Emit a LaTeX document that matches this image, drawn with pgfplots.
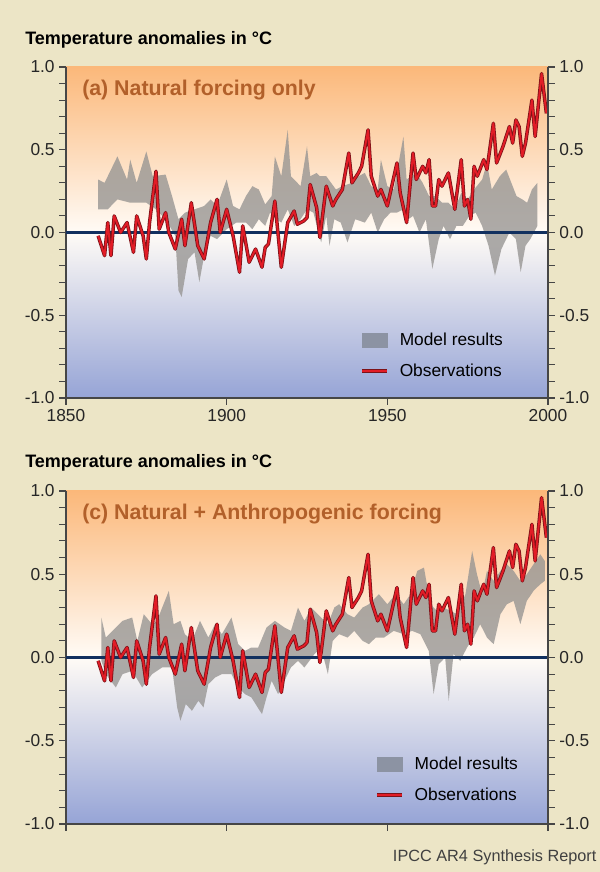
\documentclass[border=0pt]{standalone}
\usepackage{fontspec}
\setmainfont{Liberation Sans}
\usepackage{pgfplots}
\pgfplotsset{compat=1.18}
\definecolor{bgbeige}{RGB}{236,229,198}
\definecolor{toporange}{RGB}{251,184,122}
\definecolor{midwhite}{RGB}{255,251,246}
\definecolor{botblue}{RGB}{150,164,214}
\definecolor{titlebrown}{RGB}{178,96,42}
\definecolor{modelgray}{RGB}{150,148,146}
\definecolor{legendgray}{RGB}{140,147,163}
\definecolor{obsred}{RGB}{226,28,38}
\definecolor{obsdark}{RGB}{125,18,24}
\definecolor{zeroblue}{RGB}{18,48,95}
\definecolor{axisgray}{RGB}{70,70,70}
\pgfplotsset{
 common/.style={
  scale only axis, width=361.5pt,
  xmin=1850,xmax=2000,ymin=-1,ymax=1,
  ytick={-1,-0.5,0,0.5,1},
  yticklabels={-1.0,-0.5,0.0,0.5,1.0},
  minor y tick num=4,
  tick align=outside,
  major tick length=5pt, minor tick length=5pt,
  tick style={axisgray, line width=0.8pt},
  axis line style={axisgray, line width=1pt},
  ticklabel style={font=\fontsize{13}{15}\selectfont, text=black!85},
 },
 panel/.style={
  common,
  axis background/.style={top color=toporange, bottom color=botblue, middle color=midwhite},
  axis x line*=bottom, axis y line*=left,
  xtick={1850,1900,1950,2000},
  legend style={draw=none, fill=none, font=\fontsize{13}{15}\selectfont, row sep=8pt, inner sep=0pt,
    /tikz/every even column/.append style={column sep=0pt}},
  legend cell align=left,
 },
 rightax/.style={common, axis y line*=right, axis x line=none},
 modelleg/.style={legend image code/.code={\fill[legendgray] (0pt,-5.2pt) rectangle (19pt,5.2pt);}},
 obsleg/.style={legend image code/.code={\draw[obsdark,line width=2.6pt] (0pt,0pt)--(19pt,0pt);\draw[obsred,line width=1.4pt] (0pt,0pt)--(19pt,0pt);}},
 obsd/.style={obsdark, line width=2.6pt, line join=round, forget plot},
 obsr/.style={obsred, line width=1.4pt, line join=round, forget plot},
 band/.style={fill=modelgray, fill opacity=0.78, draw=none, forget plot},
 zline/.style={zeroblue, line width=2.2pt, forget plot},
}
\pgfplotstableread{
year val
1860 -0.02
1862 -0.14
1863 0.06
1864 -0.14
1865 0.10
1867 0.00
1869 0.06
1871 -0.12
1872 0.10
1874 -0.02
1875 -0.16
1876 0.06
1878 0.37
1879 0.02
1881 0.12
1882 0.00
1884 -0.10
1886 0.08
1887 -0.08
1889 0.18
1891 -0.08
1893 -0.16
1895 0.06
1897 0.20
1898 0.00
1900 0.14
1902 -0.02
1904 -0.24
1905 0.04
1907 -0.18
1909 -0.10
1911 -0.21
1912 -0.09
1913 -0.07
1915 0.19
1917 -0.21
1919 0.06
1921 0.13
1922 0.05
1924 0.07
1925 0.09
1926 0.29
1928 0.15
1929 -0.03
1931 0.28
1933 0.16
1934 0.20
1936 0.26
1938 0.48
1939 0.30
1941 0.36
1942 0.40
1944 0.62
1945 0.34
1947 0.22
1948 0.26
1950 0.16
1953 0.42
1954 0.24
1956 0.06
1958 0.48
1959 0.32
1961 0.40
1962 0.36
1963 0.44
1964 0.16
1965 0.16
1966 0.32
1967 0.28
1969 0.36
1971 0.14
1973 0.44
1974 0.16
1975 0.20
1976 0.08
1977 0.40
1978 0.34
1980 0.44
1981 0.38
1983 0.66
1984 0.42
1986 0.52
1988 0.64
1989 0.54
1990 0.68
1991 0.64
1992 0.46
1993 0.54
1995 0.80
1996 0.58
1998 0.96
1999.5 0.72
}\obs
\begin{document}
\begin{tikzpicture}
\path[use as bounding box, fill=bgbeige] (0,0) rectangle (450pt,654pt);
% ---------- panel (a)
\begin{axis}[panel, height=248.25pt, at={(49.5pt,355.5pt)}, anchor=south west,
  xticklabels={1850,1900,1950,2000},
  legend style={at={(rel axis cs:0.61,0.205)}, anchor=north west}]
\addplot[band] coordinates {
(1860,0.32) (1862,0.30) (1866,0.46) (1869,0.32) (1870,0.44) (1872,0.30) (1875,0.49) (1877,0.34)
(1881,0.35) (1883,0.22) (1885,0.08) (1887,0.12) (1890,0.14) (1893,0.16) (1895,0.20) (1897,0.16)
(1900,0.32) (1902,0.16) (1904,0.14) (1906,0.22) (1908,0.28) (1910,0.26) (1912,0.17) (1914,0.22)
(1915,0.46) (1917,0.34) (1919,0.62) (1920,0.34) (1921,0.32) (1923,0.28) (1925,0.52) (1926,0.34)
(1928,0.36) (1929,0.34) (1931,0.34) (1934,0.26) (1936,0.28) (1939,0.30) (1941,0.34) (1943,0.36)
(1945,0.28) (1947,0.26) (1948,0.44) (1950,0.28) (1952,0.26) (1955,0.58) (1956,0.32) (1959,0.36)
(1961,0.30) (1963,0.22) (1965,0.22) (1967,0.18) (1969,0.18) (1971,0.14) (1973,0.24) (1975,0.20)
(1977,0.26) (1979.5,0.32) (1981,0.42) (1982.5,0.26) (1985,0.34) (1987,0.38) (1989,0.28) (1990.2,0.22)
(1992,0.20) (1993.5,0.18) (1995,0.26) (1996.7,0.30)
(1996.7,0.04) (1994.5,-0.04) (1993,-0.08) (1991.5,-0.24) (1990,-0.04) (1988,0.00) (1985.5,-0.10)
(1983.5,-0.26) (1981.5,-0.08) (1979.5,0.04) (1977.5,0.12) (1975.5,0.10) (1973.5,0.04) (1971.5,0.04)
(1969.5,-0.04) (1967.5,0.04) (1966,-0.04) (1964,-0.22) (1962,0.08) (1960,0.00) (1958,0.10)
(1956.5,0.08) (1955,0.14) (1953,0.12) (1951,0.12) (1949,0.08) (1947,0.00) (1945,0.12) (1943,0.06)
(1940,0.08) (1937.6,-0.06) (1935.5,0.06) (1933.5,0.08) (1932,-0.08) (1931,0.10) (1929.4,-0.06)
(1927,0.12) (1925,0.14) (1923,0.08) (1921,0.04) (1919,0.14) (1917,0.06) (1915.5,0.08) (1913.5,0.12)
(1912,0.04) (1910,0.08) (1908,0.02) (1906,0.06) (1903,0.06) (1900,0.02) (1897,-0.04) (1895,-0.02)
(1893,-0.14) (1891.5,-0.30) (1890,-0.12) (1888,-0.16) (1886,-0.39) (1885,-0.35) (1884,-0.02)
(1881,0.08) (1878,0.14) (1875,0.18) (1870,0.18) (1866,0.20) (1863,0.14) (1860,0.14)
} -- cycle;
\addplot[zline] coordinates {(1850,0) (2000,0)};
\addplot[obsd] table[x=year,y=val] {\obs};
\addplot[obsr] table[x=year,y=val] {\obs};
\addlegendimage{modelleg}\addlegendentry{\hspace{6pt}Model results}
\addlegendimage{obsleg}\addlegendentry{\hspace{6pt}Observations}
\end{axis}
\begin{axis}[rightax, height=248.25pt, at={(49.5pt,355.5pt)}, anchor=south west]
\addplot[draw=none, forget plot] coordinates {(1900,0)};
\end{axis}
% ---------- panel (c)
\begin{axis}[panel, height=249.75pt, at={(49.5pt,36pt)}, anchor=south west,
  xticklabels={},
  legend style={at={(rel axis cs:0.641,0.21)}, anchor=north west}]
\addplot[band] coordinates {
(1861,0.24) (1862.4,0.12) (1865.5,0.18) (1867.6,0.22) (1870.6,0.24) (1872.2,0.10) (1874.2,0.26)
(1876.8,0.20) (1878.3,0.22) (1882,0.40) (1883.5,0.20) (1885.6,0.22) (1887,0.14) (1889.2,0.10)
(1891.7,0.22) (1894.3,0.12) (1896.4,0.20) (1898.5,0.14) (1901.5,0.24) (1903.6,0.08) (1905.7,0.04)
(1907.7,0.06) (1909.8,0.06) (1912.4,0.18) (1915,0.22) (1918,0.18) (1920,0.16) (1922.2,0.30)
(1924.2,0.22) (1926.3,0.30) (1927.3,0.28) (1929.4,0.24) (1931.5,0.20) (1933.5,0.30) (1935,0.32)
(1937.6,0.26) (1939.7,0.24) (1942.3,0.30) (1944.3,0.32) (1947.4,0.38) (1950,0.32) (1952.6,0.38)
(1955.1,0.32) (1957.2,0.38) (1959.3,0.52) (1961.4,0.54) (1963.4,0.32) (1965.5,0.28) (1967.6,0.30)
(1969.6,0.28) (1971.7,0.26) (1974.3,0.38) (1976.4,0.64) (1977.9,0.50) (1979.5,0.38) (1981,0.52)
(1983.1,0.46) (1985.2,0.52) (1987.2,0.56) (1989.3,0.52) (1991.4,0.46) (1993.4,0.50) (1995.5,0.56)
(1997.6,0.62) (1999,0.58)
(1999,0.46) (1997.6,0.44) (1995.5,0.40) (1993.4,0.34) (1991.4,0.20) (1989.3,0.34) (1987.2,0.32)
(1985.2,0.26) (1983.1,0.08) (1981,0.12) (1978.9,0.20) (1976.9,0.12) (1974.8,0.06) (1972.7,-0.02)
(1970.6,0.02) (1969.1,-0.26) (1968,0.00) (1966,-0.04) (1964.4,-0.22) (1962.9,0.04) (1960.3,0.14)
(1957.7,0.16) (1955.1,0.14) (1952,0.16) (1949,0.12) (1946.4,0.12) (1944.3,0.08) (1942.3,0.10)
(1939.7,0.16) (1937.6,0.12) (1935,0.14) (1933,0.10) (1931.5,-0.10) (1929.4,0.06) (1927.3,0.02)
(1924.2,-0.06) (1922.2,-0.02) (1920,-0.06) (1918,-0.14) (1916,-0.22) (1914,-0.14) (1912.4,-0.24)
(1911,-0.34) (1910.3,-0.32) (1907.7,-0.24) (1905.7,-0.22) (1903.6,-0.18) (1901.5,-0.10)
(1898.5,-0.10) (1896.4,-0.12) (1894.3,-0.16) (1892.8,-0.30) (1891.2,-0.26) (1889.2,-0.32)
(1887.3,-0.28) (1885.6,-0.38) (1884.6,-0.30) (1883,-0.06) (1879.9,-0.06) (1876.8,-0.10)
(1873.7,-0.18) (1870.6,-0.08) (1867.6,-0.10) (1865.5,-0.18) (1862.4,-0.10) (1861,-0.02)
} -- cycle;
\addplot[zline] coordinates {(1850,0) (2000,0)};
\addplot[obsd] table[x=year,y=val] {\obs};
\addplot[obsr] table[x=year,y=val] {\obs};
\addlegendimage{modelleg}\addlegendentry{\hspace{6pt}Model results}
\addlegendimage{obsleg}\addlegendentry{\hspace{6pt}Observations}
\end{axis}
\begin{axis}[rightax, height=249.75pt, at={(49.5pt,36pt)}, anchor=south west]
\addplot[draw=none, forget plot] coordinates {(1900,0)};
\end{axis}
% ---------- texts
\node[anchor=west, inner sep=0pt, font=\bfseries\fontsize{13.5}{16}\selectfont] at (18.75pt,624pt) {Temperature anomalies in °C};
\node[anchor=west, inner sep=0pt, font=\bfseries\fontsize{13.5}{16}\selectfont] at (18.75pt,306.75pt) {Temperature anomalies in °C};
\node[anchor=west, inner sep=0pt, text=titlebrown, font=\bfseries\fontsize{16}{19}\selectfont] at (61.5pt,586.5pt) {(a) Natural forcing only};
\node[anchor=west, inner sep=0pt, text=titlebrown, font=\bfseries\fontsize{16}{19}\selectfont] at (61.5pt,268.5pt) {(c) Natural + Anthropogenic forcing};
\node[anchor=east, inner sep=0pt, text=black!75, font=\fontsize{12.2}{14}\selectfont] at (447.5pt,11.25pt) {IPCC AR4 Synthesis Report};
\end{tikzpicture}
\end{document}
